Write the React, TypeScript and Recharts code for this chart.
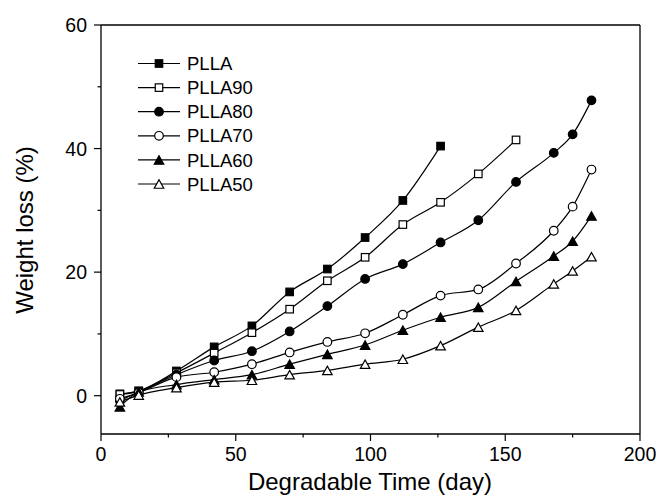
import React from 'react';
import { LineChart, Line, XAxis, YAxis, ReferenceLine, Legend, Label } from 'recharts';

const days = [7, 14, 28, 42, 56, 70, 84, 98, 112, 126, 140, 154, 168, 175, 182];

const PLLA = [0.3, 0.8, 4.0, 7.9, 11.3, 16.8, 20.5, 25.6, 31.6, 40.4];
const PLLA90 = [0.2, 0.7, 3.7, 6.9, 10.2, 14.0, 18.6, 22.4, 27.7, 31.3, 35.9, 41.4];
const PLLA80 = [-0.8, 0.6, 3.4, 5.7, 7.2, 10.4, 14.5, 18.9, 21.3, 24.8, 28.4, 34.6, 39.3, 42.3, 47.8];
const PLLA70 = [-0.5, 0.5, 3.0, 3.8, 5.1, 7.0, 8.7, 10.1, 13.1, 16.2, 17.2, 21.4, 26.7, 30.6, 36.6];
const PLLA60 = [-1.8, 0.6, 1.8, 2.6, 3.4, 5.1, 6.7, 8.2, 10.6, 12.7, 14.3, 18.5, 22.6, 25.0, 29.1];
const PLLA50 = [-1.0, 0.1, 1.3, 2.2, 2.5, 3.4, 4.1, 5.1, 5.9, 8.1, 11.1, 13.8, 18.1, 20.2, 22.5];

const seriesNames = ['PLLA', 'PLLA90', 'PLLA80', 'PLLA70', 'PLLA60', 'PLLA50'];
const seriesValues = [PLLA, PLLA90, PLLA80, PLLA70, PLLA60, PLLA50];

const xMajorTicks = [0, 50, 100, 150, 200];
const xMinorTicks = [25, 75, 125, 175];
const yMajorTicks = [0, 20, 40, 60];
const yMinorTicks = [10, 30, 50];

const xTitle = 'Degradable Time (day)';
const yTitle = 'Weight loss (%)';

type Shape = 'square' | 'circle' | 'triangle';
const markerStyles: { shape: Shape; filled: boolean }[] = [
  { shape: 'square', filled: true },
  { shape: 'square', filled: false },
  { shape: 'circle', filled: true },
  { shape: 'circle', filled: false },
  { shape: 'triangle', filled: true },
  { shape: 'triangle', filled: false },
];

const FONT = '"Liberation Sans", Arial, Helvetica, sans-serif';

const data = days.map((d, i) => {
  const row: Record<string, number | undefined> = { day: d };
  seriesNames.forEach((n, k) => {
    row[n] = seriesValues[k][i];
  });
  return row;
});

function marker(shape: Shape, filled: boolean, cx: number, cy: number, key?: string | number) {
  const fill = filled ? '#000' : '#fff';
  const common = { fill, stroke: '#000', strokeWidth: 1.2 };
  if (shape === 'square') {
    const s = 7.5;
    return <rect key={key} x={cx - s / 2} y={cy - s / 2} width={s} height={s} {...common} />;
  }
  if (shape === 'circle') {
    return <circle key={key} cx={cx} cy={cy} r={4.3} {...common} />;
  }
  const w = 9.5;
  const h = 8.5;
  const pts = `${cx - w / 2},${cy + h / 2} ${cx + w / 2},${cy + h / 2} ${cx},${cy - h / 2}`;
  return <polygon key={key} points={pts} {...common} />;
}

const makeDot = (shape: Shape, filled: boolean) => (props: any) => {
  const { cx, cy, key, index } = props;
  const k = key ?? index;
  if (cx == null || cy == null || isNaN(cx) || isNaN(cy)) return <g key={k} />;
  return marker(shape, filled, cx, cy, k);
};

const YTick = (props: any) => {
  const { x, y, payload } = props;
  const v = payload.value;
  const major = yMajorTicks.includes(v);
  const len = major ? 7 : 3.5;
  return (
    <g>
      <line x1={x} x2={x - len} y1={y} y2={y} stroke="#000" strokeWidth={1.2} />
      {major && (
        <text x={x - 14} y={y} dy="0.36em" textAnchor="end" fontSize={19.5} fontFamily={FONT} fill="#000">
          {v}
        </text>
      )}
    </g>
  );
};

const XTick = (props: any) => {
  const { x, y, payload } = props;
  const v = payload.value;
  const major = xMajorTicks.includes(v);
  const len = major ? 7 : 3.5;
  return (
    <g>
      <line x1={x} x2={x} y1={y} y2={y + len} stroke="#000" strokeWidth={1.2} />
      {major && (
        <text x={x} y={y + 27} textAnchor="middle" fontSize={19.5} fontFamily={FONT} fill="#000">
          {v}
        </text>
      )}
    </g>
  );
};

const renderLegend = () => (
  <svg width={150} height={150} style={{ display: 'block', overflow: 'visible' }}>
    {seriesNames.map((n, i) => {
      const y = 13.5 + i * 24.1;
      const m = markerStyles[i];
      return (
        <g key={n}>
          <line x1={8} x2={50} y1={y} y2={y} stroke="#000" strokeWidth={1.2} />
          {marker(m.shape, m.filled, 29, y)}
          <text x={57} y={y} dy="0.36em" fontSize={18.5} fontFamily={FONT} fill="#000">
            {n}
          </text>
        </g>
      );
    })}
  </svg>
);

export default function App() {
  return (
    <div style={{ position: 'absolute', left: 0, top: 0, background: '#fff' }}>
      <LineChart width={659} height={499} data={data} margin={{ top: 25, right: 19, bottom: 0, left: 0 }}>
        <XAxis
          type="number"
          dataKey="day"
          domain={[0, 200]}
          ticks={[...xMajorTicks, ...xMinorTicks].sort((a, b) => a - b)}
          interval={0}
          height={65}
          tickSize={0}
          tickMargin={0}
          tickLine={false}
          axisLine={{ stroke: '#000', strokeWidth: 1.3 }}
          tick={(p: any) => <XTick {...p} />}
          allowDataOverflow
        >
          <Label
            content={() => (
              <text x={370} y={490} textAnchor="middle" fontSize={24} fontFamily={FONT} fill="#000">
                {xTitle}
              </text>
            )}
          />
        </XAxis>
        <YAxis
          type="number"
          domain={[-6.2, 60]}
          ticks={[...yMajorTicks, ...yMinorTicks].sort((a, b) => a - b)}
          interval={0}
          width={101}
          tickSize={0}
          tickMargin={0}
          tickLine={false}
          axisLine={{ stroke: '#000', strokeWidth: 1.3 }}
          tick={(p: any) => <YTick {...p} />}
          allowDataOverflow
        >
          <Label
            content={() => (
              <text
                x={33}
                y={230}
                transform="rotate(-90, 33, 230)"
                textAnchor="middle"
                fontSize={24}
                fontFamily={FONT}
                fill="#000"
              >
                {yTitle}
              </text>
            )}
          />
        </YAxis>
        <ReferenceLine y={60} stroke="#000" strokeWidth={1.3} />
        <ReferenceLine x={200} stroke="#000" strokeWidth={1.3} />
        <Legend
          layout="vertical"
          align="center"
          verticalAlign="middle"
          wrapperStyle={{ position: 'absolute', left: 130, top: 50, width: 150, height: 150 }}
          content={renderLegend}
        />
        {seriesNames.map((n, i) => (
          <Line
            key={n}
            dataKey={n}
            type="monotone"
            stroke="#000"
            strokeWidth={1.2}
            dot={makeDot(markerStyles[i].shape, markerStyles[i].filled)}
            activeDot={false}
            isAnimationActive={false}
            legendType="none"
          />
        ))}
      </LineChart>
    </div>
  );
}
